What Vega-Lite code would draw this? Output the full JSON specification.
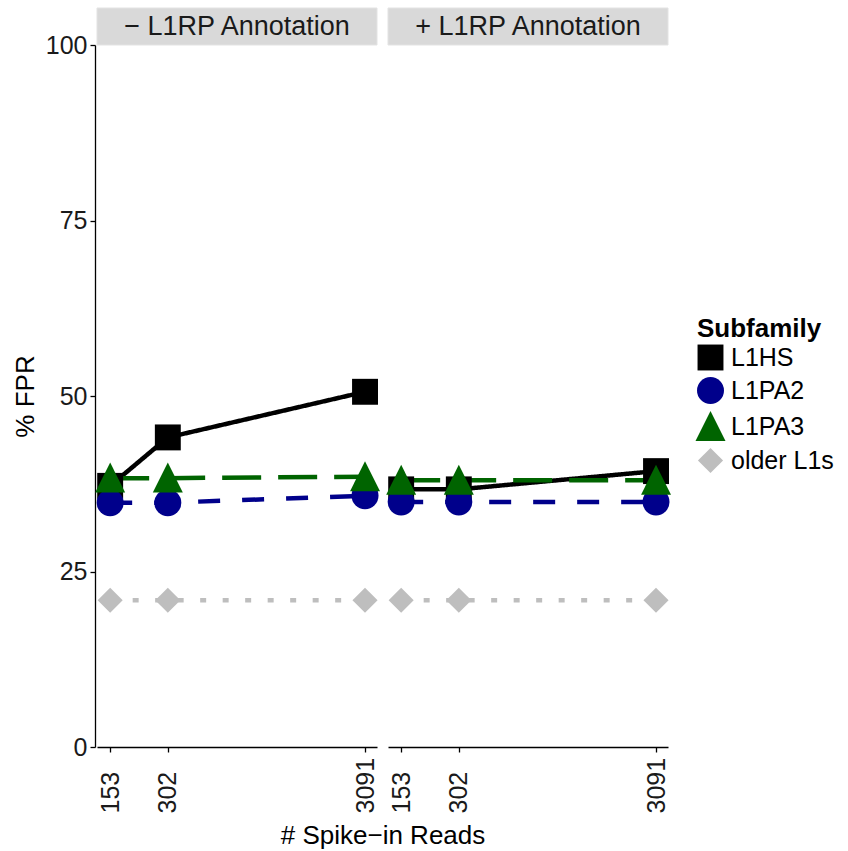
{
  "$schema": "https://vega.github.io/schema/vega-lite/v6.json",
  "padding": {"left": 12, "top": 7, "right": 3, "bottom": 0},
  "config": {
    "font": "Liberation Sans",
    "view": {"stroke": null},
    "axis": {
      "grid": false,
      "domainColor": "#000000",
      "domainWidth": 1.3,
      "tickColor": "#000000",
      "tickWidth": 1.3,
      "tickSize": 5,
      "labelColor": "#1a1a1a",
      "labelFontSize": 25,
      "labelFont": "Liberation Sans",
      "labelPadding": 3,
      "titleFont": "Liberation Sans",
      "titleFontSize": 26,
      "titleFontWeight": "normal",
      "titleColor": "#000000"
    },
    "header": {
      "titleFont": "Liberation Sans",
      "titleFontSize": 26,
      "titleFontWeight": "normal",
      "titleColor": "#000000"
    },
    "legend": {
      "titleFont": "Liberation Sans",
      "titleFontSize": 26,
      "titleFontWeight": "bold",
      "titleColor": "#000000",
      "labelFont": "Liberation Sans",
      "labelFontSize": 25,
      "labelColor": "#000000"
    }
  },
  "data": {
    "values": [
      {"Annotation": "− L1RP Annotation", "Reads": 153, "Subfamily": "L1HS", "FPR": 37.2},
      {"Annotation": "− L1RP Annotation", "Reads": 302, "Subfamily": "L1HS", "FPR": 44.1},
      {"Annotation": "− L1RP Annotation", "Reads": 3091, "Subfamily": "L1HS", "FPR": 50.6},
      {"Annotation": "− L1RP Annotation", "Reads": 153, "Subfamily": "L1PA2", "FPR": 34.8},
      {"Annotation": "− L1RP Annotation", "Reads": 302, "Subfamily": "L1PA2", "FPR": 34.8},
      {"Annotation": "− L1RP Annotation", "Reads": 3091, "Subfamily": "L1PA2", "FPR": 35.8},
      {"Annotation": "− L1RP Annotation", "Reads": 153, "Subfamily": "L1PA3", "FPR": 38.3},
      {"Annotation": "− L1RP Annotation", "Reads": 302, "Subfamily": "L1PA3", "FPR": 38.3},
      {"Annotation": "− L1RP Annotation", "Reads": 3091, "Subfamily": "L1PA3", "FPR": 38.5},
      {"Annotation": "− L1RP Annotation", "Reads": 153, "Subfamily": "older L1s", "FPR": 20.9},
      {"Annotation": "− L1RP Annotation", "Reads": 302, "Subfamily": "older L1s", "FPR": 20.9},
      {"Annotation": "− L1RP Annotation", "Reads": 3091, "Subfamily": "older L1s", "FPR": 20.9},
      {"Annotation": "+ L1RP Annotation", "Reads": 153, "Subfamily": "L1HS", "FPR": 36.7},
      {"Annotation": "+ L1RP Annotation", "Reads": 302, "Subfamily": "L1HS", "FPR": 36.7},
      {"Annotation": "+ L1RP Annotation", "Reads": 3091, "Subfamily": "L1HS", "FPR": 39.3},
      {"Annotation": "+ L1RP Annotation", "Reads": 153, "Subfamily": "L1PA2", "FPR": 34.9},
      {"Annotation": "+ L1RP Annotation", "Reads": 302, "Subfamily": "L1PA2", "FPR": 34.9},
      {"Annotation": "+ L1RP Annotation", "Reads": 3091, "Subfamily": "L1PA2", "FPR": 34.9},
      {"Annotation": "+ L1RP Annotation", "Reads": 153, "Subfamily": "L1PA3", "FPR": 38.0},
      {"Annotation": "+ L1RP Annotation", "Reads": 302, "Subfamily": "L1PA3", "FPR": 38.0},
      {"Annotation": "+ L1RP Annotation", "Reads": 3091, "Subfamily": "L1PA3", "FPR": 38.0},
      {"Annotation": "+ L1RP Annotation", "Reads": 153, "Subfamily": "older L1s", "FPR": 20.9},
      {"Annotation": "+ L1RP Annotation", "Reads": 302, "Subfamily": "older L1s", "FPR": 20.9},
      {"Annotation": "+ L1RP Annotation", "Reads": 3091, "Subfamily": "older L1s", "FPR": 20.9}
    ]
  },
  "facet": {
    "column": {
      "field": "Annotation",
      "type": "nominal",
      "sort": ["− L1RP Annotation", "+ L1RP Annotation"],
      "header": {"labels": false, "title": "# Spike−in Reads", "titleOrient": "bottom", "titlePadding": 0}
    }
  },
  "spacing": 5,
  "spec": {
    "width": 280,
    "height": 702,
    "layer": [
      {
        "transform": [{"aggregate": [{"op": "count", "as": "n"}], "groupby": ["Annotation"]}],
        "mark": {"type": "rect", "fill": "#d9d9d9", "stroke": "#e3e3e3", "strokeWidth": 1, "clip": false},
        "encoding": {
          "x": {"value": 0},
          "x2": {"value": "width"},
          "y": {"value": -37},
          "y2": {"value": 0}
        }
      },
      {
        "transform": [{"aggregate": [{"op": "count", "as": "n"}], "groupby": ["Annotation"]}],
        "mark": {"type": "text", "y": -18, "fontSize": 27, "font": "Liberation Sans", "color": "#1a1a1a", "align": "center", "baseline": "middle", "clip": false},
        "encoding": {
          "x": {"datum": 683, "type": "quantitative"},
          "text": {"field": "Annotation", "type": "nominal"}
        }
      },
      {
        "mark": {"type": "line", "strokeWidth": 4.5, "strokeCap": "butt"},
        "encoding": {
          "x": {
            "field": "Reads", "type": "quantitative",
            "scale": {"type": "log", "domain": [131, 3560], "nice": false},
            "axis": {"values": [153, 302, 3091], "labelAngle": -90, "labelAlign": "left", "labelBaseline": "middle", "labelPadding": 61, "labelOverlap": false, "format": "d", "title": null}
          },
          "y": {
            "field": "FPR", "type": "quantitative",
            "scale": {"domain": [0, 100], "nice": false, "zero": true},
            "axis": {"values": [0, 25, 50, 75, 100], "title": "% FPR", "titlePadding": 7}
          },
          "color": {
            "field": "Subfamily", "type": "nominal",
            "scale": {"domain": ["L1HS", "L1PA2", "L1PA3", "older L1s"], "range": ["#000000", "#00008B", "#006400", "#BEBEBE"]},
            "legend": {"title": "Subfamily", "orient": "none", "legendX": 600, "legendY": 271, "symbolSize": 729, "symbolOpacity": 1, "symbolStrokeWidth": 0, "rowPadding": 6, "labelOffset": 7, "titlePadding": 2}
          },
          "strokeDash": {
            "field": "Subfamily", "type": "nominal",
            "scale": {"domain": ["L1HS", "L1PA2", "L1PA3", "older L1s"], "range": [[1, 0], [22, 22], [39, 17], [6, 16.5]]},
            "legend": null
          }
        }
      },
      {
        "mark": {"type": "point", "filled": true, "opacity": 1, "size": 729, "strokeWidth": 0},
        "encoding": {
          "x": {"field": "Reads", "type": "quantitative"},
          "y": {"field": "FPR", "type": "quantitative"},
          "color": {"field": "Subfamily", "type": "nominal"},
          "shape": {
            "field": "Subfamily", "type": "nominal",
            "scale": {"domain": ["L1HS", "L1PA2", "L1PA3", "older L1s"], "range": ["M-0.96,-0.96L0.96,-0.96L0.96,0.96L-0.96,0.96Z", "circle", "M0,-1.15L1.11,1.07L-1.11,1.07Z", "M0,-0.93L0.93,0L0,0.93L-0.93,0Z"]},
            "legend": {"title": "Subfamily", "orient": "none", "legendX": 600, "legendY": 271}
          }
        }
      }
    ]
  }
}
